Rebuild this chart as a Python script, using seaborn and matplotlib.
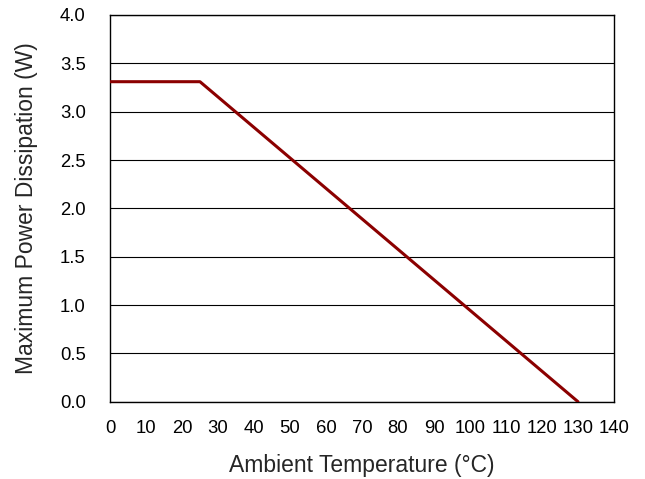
import pandas as pd
import matplotlib.pyplot as plt
import seaborn as sns

# derating curve
temp = [0, 25, 130]
power = [3.31, 3.31, 0.0]
x_ticks = list(range(0, 150, 10))
y_ticks = [0.0, 0.5, 1.0, 1.5, 2.0, 2.5, 3.0, 3.5, 4.0]

df = pd.DataFrame({'Ambient Temperature (°C)': temp,
                   'Maximum Power Dissipation (W)': power})

sns.set_style('white')
plt.rcParams['font.family'] = ['Liberation Sans', 'DejaVu Sans']

fig = plt.figure(figsize=(6.45, 4.79), dpi=100)
ax = fig.add_axes([0.1705, 0.1614, 0.7814, 0.8073])

sns.lineplot(data=df, x='Ambient Temperature (°C)', y='Maximum Power Dissipation (W)',
             color='#8B0000', linewidth=2.2, ax=ax, zorder=3)

ax.set_xlim(0, 140)
ax.set_ylim(0, 4.0)
ax.set_xticks(x_ticks)
ax.set_yticks(y_ticks)
ax.set_yticklabels([f'{v:.1f}' for v in y_ticks])
ax.tick_params(axis='both', length=0, labelsize=13.3, colors='black')
ax.tick_params(axis='x', pad=13.5)
ax.tick_params(axis='y', pad=17.5)
ax.yaxis.grid(True, color='black', linewidth=0.8)
ax.xaxis.grid(False)
for s in ax.spines.values():
    s.set_color('black')
    s.set_linewidth(1.0)

ax.set_xlabel('Ambient Temperature (°C)', fontsize=16.5, labelpad=12)
ax.set_ylabel('Maximum Power Dissipation (W)', fontsize=16.5, labelpad=16)

plt.savefig('out.png', dpi=100)
